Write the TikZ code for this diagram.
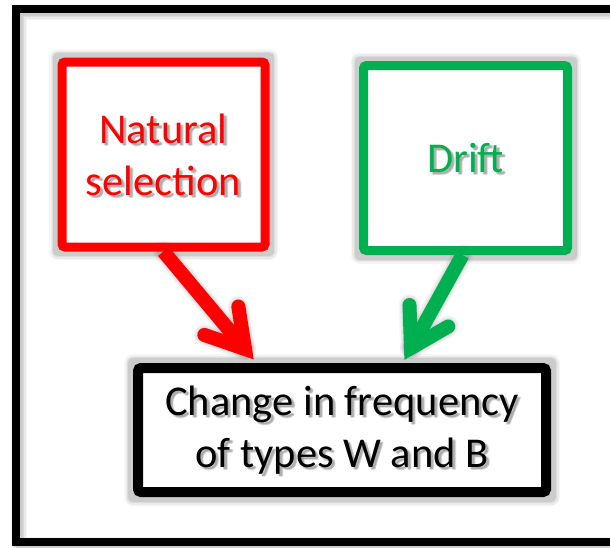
\documentclass[tikz,border=0pt]{standalone}
\usepackage{fontspec}
\setmainfont{Carlito}
\usetikzlibrary{calc}
\definecolor{selred}{RGB}{255,0,0}
\definecolor{driftgreen}{RGB}{0,176,80}
\definecolor{shadowgray}{RGB}{80,80,80}
\pgfdeclarelayer{shadow}
\pgfsetlayers{shadow,main}

% soft drop shadow of a stroked path: #1 = stroke width, #2 = path
\newcommand\castshadow[2]{%
  \foreach \extra/\op in {8/0.05,5/0.07,2/0.09,0/0.12}{%
    \draw[draw=shadowgray, line width=#1+\extra, opacity=\op, shift={(3,3)}, line cap=round, line join=round] #2;}}
% soft drop shadow of a text block: #1 = position, #2 = text
\newcommand\textshadow[2]{%
  \foreach \dx/\dy in {2/2,3/3,2.5/3.5,3.5/2.5,3/2}{%
    \node[boxtext, text=shadowgray, opacity=0.12] at ($#1+(\dx,\dy)$) {#2};}}

\begin{document}
\begin{tikzpicture}[x=1pt,y=-1pt,
  boxtext/.style={inner sep=0pt, align=center, font=\fontsize{42.5}{52}\selectfont},
  box/.style={boxtext, draw, rectangle, rounded corners=3pt},
  framebox/.style={draw=black, line width=8},
  arrowshaft/.style={line width=14, line cap=butt},
  arrowhead/.style={line width=14, line cap=round, line join=miter}]
\useasboundingbox (0,0) rectangle (610,547);
\clip (0,0) rectangle (610,547);

% outer frame, running past the right edge
\draw[framebox] (16,9) rectangle (650,542);

% the three boxes
\node[box, draw=selred, text=selred, line width=9, minimum width=203, minimum height=185]
  (ns) at (163.5,154.5) {Natural\\selection};
\node[box, draw=driftgreen, text=driftgreen, line width=9, minimum width=204, minimum height=185]
  (drift) at (465.5,158) {Drift};
\node[box, draw=black, text=black, line width=10, minimum width=408, minimum height=124]
  (change) at (342,430) {Change in frequency\\of types W and B};

% arrow tips resting on the top edge of the lower box
\coordinate (redtip) at ($(change.north)+(-97,-14)$);
\coordinate (greentip) at ($(change.north)+(69,-15)$);
\coordinate (greenstart) at ($(drift.south)+(-3,0)$);

\draw[arrowshaft, selred] (ns.south) -- (redtip);
\draw[arrowhead, selred] ($(redtip)!43pt!31:(ns.south)$) -- (redtip) -- ($(redtip)!43pt!-31:(ns.south)$);
\draw[arrowshaft, driftgreen] (greenstart) -- (greentip);
\draw[arrowhead, driftgreen] ($(greentip)!43pt!31:(greenstart)$) -- (greentip) -- ($(greentip)!43pt!-31:(greenstart)$);

% shadows underneath everything
\begin{pgfonlayer}{shadow}
  \castshadow{8}{(16,9) rectangle (650,542)}
  \castshadow{9}{(ns.north west) rectangle (ns.south east)}
  \castshadow{9}{(drift.north west) rectangle (drift.south east)}
  \castshadow{10}{(change.north west) rectangle (change.south east)}
  \castshadow{14}{(ns.south) -- (redtip)}
  \castshadow{14}{($(redtip)!43pt!31:(ns.south)$) -- (redtip) -- ($(redtip)!43pt!-31:(ns.south)$)}
  \castshadow{14}{(greenstart) -- (greentip)}
  \castshadow{14}{($(greentip)!43pt!31:(greenstart)$) -- (greentip) -- ($(greentip)!43pt!-31:(greenstart)$)}
  \textshadow{(ns.center)}{Natural\\selection}
  \textshadow{(drift.center)}{Drift}
  \textshadow{(change.center)}{Change in frequency\\of types W and B}
\end{pgfonlayer}
\end{tikzpicture}
\end{document}
